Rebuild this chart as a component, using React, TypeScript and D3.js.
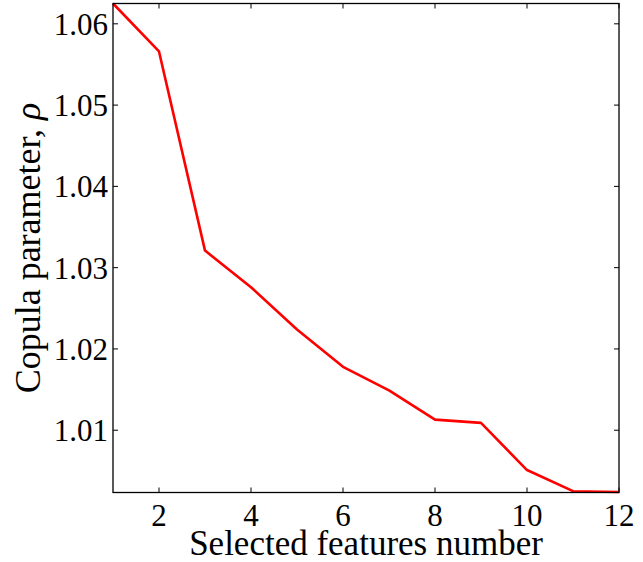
import React, { useEffect, useRef } from 'react'
import * as d3 from 'd3'

// selected features count vs fitted copula parameter
const features = [1, 2, 3, 4, 5, 6, 7, 8, 9, 10, 11, 12]
const rho = [1.0625, 1.0566, 1.0321, 1.0276, 1.0224, 1.0178, 1.0149, 1.0113, 1.0109, 1.0051, 1.0025, 1.0024]
const xTicks = [2, 4, 6, 8, 10, 12]
const yTicks = [1.01, 1.02, 1.03, 1.04, 1.05, 1.06]

const W = 643
const H = 562
const margin = { left: 113, right: 24, top: 3.5, bottom: 70 }
const font = '"Liberation Serif", "Times New Roman", serif'

export default function App() {
  const ref = useRef<SVGSVGElement>(null)

  useEffect(() => {
    const svg = d3.select(ref.current)
    svg.selectAll('*').remove()

    const x0 = margin.left, x1 = W - margin.right
    const y0 = H - margin.bottom + 0.5, y1 = margin.top
    const x = d3.scaleLinear().domain([1, 12]).range([x0, x1])
    const y = d3.scaleLinear().domain([d3.min(rho)!, d3.max(rho)!]).range([y0 - 0.5, y1])

    const line = d3.line<number>()
      .x((d, i) => x(features[i]))
      .y(d => y(d))

    svg.append('path')
      .attr('d', line(rho))
      .attr('fill', 'none')
      .attr('stroke', '#ff0000')
      .attr('stroke-width', 2.6)
      .attr('stroke-linejoin', 'round')

    // box
    svg.append('rect')
      .attr('x', x0).attr('y', y1)
      .attr('width', x1 - x0).attr('height', y0 - y1)
      .attr('fill', 'none').attr('stroke', '#000').attr('stroke-width', 1.3)

    const tl = 5
    const ticks = svg.append('g').attr('stroke', '#000').attr('stroke-width', 1)
    xTicks.forEach(t => {
      ticks.append('line').attr('x1', x(t)).attr('x2', x(t)).attr('y1', y0).attr('y2', y0 - tl)
      ticks.append('line').attr('x1', x(t)).attr('x2', x(t)).attr('y1', y1).attr('y2', y1 + tl)
    })
    yTicks.forEach(t => {
      ticks.append('line').attr('x1', x0).attr('x2', x0 + tl).attr('y1', y(t)).attr('y2', y(t))
      ticks.append('line').attr('x1', x1).attr('x2', x1 - tl).attr('y1', y(t)).attr('y2', y(t))
    })

    svg.append('g').selectAll('text')
      .data(xTicks)
      .enter()
      .append('text')
      .attr('x', d => x(d))
      .attr('y', 526)
      .attr('text-anchor', 'middle')
      .attr('font-family', font)
      .attr('font-size', 31)
      .text(d => d)

    svg.append('g').selectAll('text')
      .data(yTicks)
      .enter()
      .append('text')
      .attr('x', 108)
      .attr('y', d => y(d) + 11)
      .attr('text-anchor', 'end')
      .attr('font-family', font)
      .attr('font-size', 31)
      .text(d => d.toFixed(2))

    svg.append('text')
      .attr('x', (x0 + x1) / 2)
      .attr('y', 555)
      .attr('text-anchor', 'middle')
      .attr('font-family', font)
      .attr('font-size', 35)
      .text('Selected features number')

    const yl = svg.append('text')
      .attr('transform', 'translate(40,' + ((y0 + y1) / 2) + ') rotate(-90)')
      .attr('text-anchor', 'middle')
      .attr('font-family', font)
      .attr('font-size', 36)
    yl.append('tspan').text('Copula parameter, ')
    yl.append('tspan').attr('font-style', 'italic').text('ρ')
  }, [])

  return (
    <svg ref={ref} width={W} height={H}
      style={{ position: 'absolute', left: 0, top: 0, background: '#fff' }} />
  )
}
